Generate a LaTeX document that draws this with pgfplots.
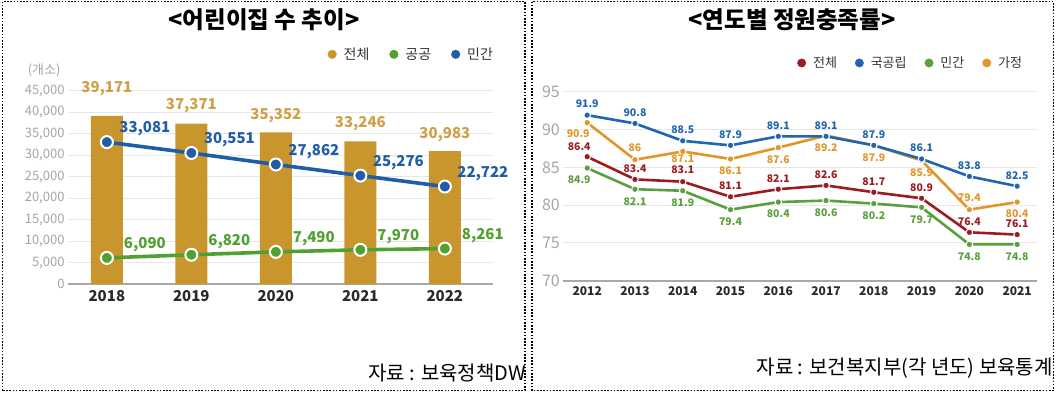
\documentclass[border=0pt]{standalone}
\usepackage{fontspec}
\setmainfont{Noto Sans CJK KR}
\usepackage{pgfplots}
\usepackage{pgfplotstable}
\pgfplotsset{compat=1.18}
\newcommand\fs[1]{\fontsize{#1bp}{#1bp}\selectfont}
\definecolor{cGold}{HTML}{C8962D}
\definecolor{cGoldTxt}{HTML}{CFA048}
\definecolor{cBlueL}{HTML}{1F5DA6}
\definecolor{cGreenL}{HTML}{52A032}
\definecolor{cRed}{HTML}{9A1C22}
\definecolor{cBlueR}{HTML}{1F66B2}
\definecolor{cGreenR}{HTML}{5A9F3C}
\definecolor{cOrange}{HTML}{E0962A}
\definecolor{cTick}{HTML}{A5A5A5}
\definecolor{cYear}{HTML}{2A2A2A}
\definecolor{cGrid}{HTML}{E6E6E6}
\definecolor{cBase}{HTML}{A8A8A8}
\definecolor{cLeg}{HTML}{333333}

% left chart data
\pgfplotstableread{
x y dy
0 39171 27
1 37371 18
2 35352 17
3 33246 18
4 30983 16
}\totaltab
\pgfplotstableread{
x y
0 33081
1 30551
2 27862
3 25276
4 22722
}\privtab
\pgfplotstableread{
x y
0 6090
1 6820
2 7490
3 7970
4 8261
}\pubtab
% right chart data
\pgfplotstableread{
x y dx dy
0 86.4 -8 10
1 83.4 0 11
2 83.1 0 11.5
3 81.1 0 11
4 82.1 0 11
5 82.6 0 11
6 81.7 0 11
7 80.9 0 11
8 76.4 0 11
9 76.1 0 11
}\rTotal
\pgfplotstableread{
x y dx dy
0 91.9 0 11
1 90.8 0 11
2 88.5 0 11
3 87.9 0 11
4 89.1 0 11
5 89.1 0 11
6 87.9 0 11
7 86.1 0 11
8 83.8 0 11
9 82.5 0 11
}\rPub
\pgfplotstableread{
x y dx dy
0 84.9 -8 -12
1 82.1 0 -12
2 81.9 0 -12
3 79.4 0 -12
4 80.4 0 -12
5 80.6 0 -12
6 80.2 0 -12
7 79.7 0 -12
8 74.8 0 -12
9 74.8 0 -12
}\rPriv
\pgfplotstableread{
x y dx dy
0 90.9 -9 -11
1 86.0 0 12
2 87.1 0 -7.5
3 86.1 0 -12
4 87.6 0 -12
5 89.2 0 -12
6 87.9 0 -12
7 85.9 0 -12
8 79.4 0 12
9 80.4 0 -12
}\rHome

\pgfplotsset{
  rline/.style={#1, line width=2.6bp, mark=*, mark size=3.3bp,
    mark options={fill=#1, draw=white, line width=1bp},
    nodes near coords, point meta=y,
    visualization depends on={\thisrow{dx} \as \dx},
    visualization depends on={\thisrow{dy} \as \dy},
    every node near coord/.append style={font=\bfseries\fs{10.5}, text=#1, anchor=center, inner sep=1bp, xshift=\dx bp, yshift=\dy bp}},
}

\begin{document}
\begin{tikzpicture}[x=1bp,y=1bp]
\useasboundingbox (0,0) rectangle (1057,392);

% ---------------- left chart ----------------
\begin{axis}[
  at={(68bp,108bp)}, anchor=south west, scale only axis,
  width=425bp, height=193bp,
  xmin=-0.46, xmax=4.57, ymin=0, ymax=45000,
  axis line style={draw=none}, tick style={draw=none},
  xtick={0,...,4}, xticklabels={2018,2019,2020,2021,2022},
  ytick={5000,10000,...,45000},
  extra y ticks={0},
  extra y tick style={grid style={draw=cBase, line width=2bp}},
  ymajorgrids, grid style={draw=cGrid, line width=1bp},
  scaled y ticks=false,
  /pgf/number format/1000 sep={,},
  /pgf/number format/assume math mode=true,
  yticklabel style={font=\fs{13}, text=cTick},
  xticklabel style={font=\bfseries\fs{15}, text=cYear, yshift=-3bp},
  clip=false,
  legend columns=3,
  legend style={draw=none, fill=none, font=\fs{14}, text=cLeg,
    at={(1.012,1.19)}, anchor=east,
    /tikz/every odd column/.append style={column sep=5bp},
    /tikz/every even column/.append style={column sep=18bp}},
]
\addlegendimage{legend image code/.code={\fill[cGold] (0bp,0bp) circle (4.3bp);}}
\addlegendentry{전체}
\addlegendimage{legend image code/.code={\fill[cGreenL] (0bp,0bp) circle (4.3bp);}}
\addlegendentry{공공}
\addlegendimage{legend image code/.code={\fill[cBlueL] (0bp,0bp) circle (4.3bp);}}
\addlegendentry{민간}

\addplot[ybar, bar width=32bp, bar shift=0pt, fill=cGold, draw=none, forget plot,
  nodes near coords, point meta=y,
  visualization depends on={\thisrow{dy} \as \dy},
  every node near coord/.append style={font=\bfseries\fs{15}, text=cGoldTxt, anchor=center, yshift=\dy bp}]
  table[x=x,y=y] {\totaltab};

\addplot[cBlueL, line width=3.6bp, mark=*, mark size=6bp,
  mark options={fill=cBlueL, draw=white, line width=2bp}, forget plot,
  nodes near coords, point meta=y,
  every node near coord/.append style={font=\bfseries\fs{15}, text=cBlueL, anchor=center, xshift=38bp, yshift=13bp}]
  table[x=x,y=y] {\privtab};

\addplot[cGreenL, line width=3.6bp, mark=*, mark size=6bp,
  mark options={fill=cGreenL, draw=white, line width=2bp}, forget plot,
  nodes near coords, point meta=y,
  every node near coord/.append style={font=\bfseries\fs{15}, text=cGreenL, anchor=center, xshift=38bp, yshift=13bp}]
  table[x=x,y=y] {\pubtab};
\end{axis}

% ---------------- right chart ----------------
\begin{axis}[
  at={(563.3bp,111.3bp)}, anchor=south west, scale only axis,
  width=473.4bp, height=189bp,
  xmin=-0.5, xmax=9.41, ymin=70, ymax=95,
  axis line style={draw=none}, tick style={draw=none},
  xtick={0,...,9}, xticklabels={2012,2013,2014,2015,2016,2017,2018,2019,2020,2021},
  ytick={75,80,...,95},
  extra y ticks={70},
  extra y tick style={grid style={draw=cBase, line width=2.4bp}},
  ymajorgrids, grid style={draw=cGrid, line width=1bp},
  /pgf/number format/assume math mode=true,
  yticklabel style={font=\fs{16}, text=cTick},
  xticklabel style={font=\bfseries\fs{12}, text=cYear, yshift=-2bp},
  clip=false,
  legend columns=4,
  legend style={draw=none, fill=none, font=\fs{13}, text=cLeg,
    at={(0.98,1.152)}, anchor=east,
    /tikz/every odd column/.append style={column sep=5bp},
    /tikz/every even column/.append style={column sep=16bp}},
]
\addlegendimage{legend image code/.code={\fill[cRed] (0bp,0bp) circle (4.2bp);}}
\addlegendentry{전체}
\addlegendimage{legend image code/.code={\fill[cBlueR] (0bp,0bp) circle (4.2bp);}}
\addlegendentry{국공립}
\addlegendimage{legend image code/.code={\fill[cGreenR] (0bp,0bp) circle (4.2bp);}}
\addlegendentry{민간}
\addlegendimage{legend image code/.code={\fill[cOrange] (0bp,0bp) circle (4.2bp);}}
\addlegendentry{가정}

\addplot[rline=cGreenR, forget plot] table[x=x,y=y] {\rPriv};
\addplot[rline=cRed, forget plot] table[x=x,y=y] {\rTotal};
\addplot[rline=cOrange, forget plot] table[x=x,y=y] {\rHome};
\addplot[rline=cBlueR, forget plot] table[x=x,y=y] {\rPub};
\end{axis}

% titles and notes
\node[font=\bfseries\fs{23.5}, text=black] at (264,372) {<어린이집 수 추이>};
\node[font=\bfseries\fs{23.5}, text=black] at (792,372) {<연도별 정원충족률>};
\node[font=\fs{13}, text=cTick, anchor=east] at (64,322) {(개소)};
\begin{scope}
\clip (0,0) rectangle (524,392);
\node[font=\fs{20}, text=black, anchor=west, inner sep=0pt] at (368,19) {자료 : 보육정책DW};
\end{scope}
\begin{scope}
\clip (532,0) rectangle (1052,392);
\node[font=\fs{20}, text=black, anchor=east, inner sep=0pt] at (1053,24) {자료 : 보건복지부(각 년도) 보육통계};
\end{scope}

% dotted frames
\draw[line width=1.6bp, dash pattern=on 1.6bp off 1.6bp] (2.5,1.5) rectangle (525,390.5);
\draw[line width=1.6bp, dash pattern=on 1.6bp off 1.6bp] (532,1.5) rectangle (1053.5,390.5);
\end{tikzpicture}
\end{document}
